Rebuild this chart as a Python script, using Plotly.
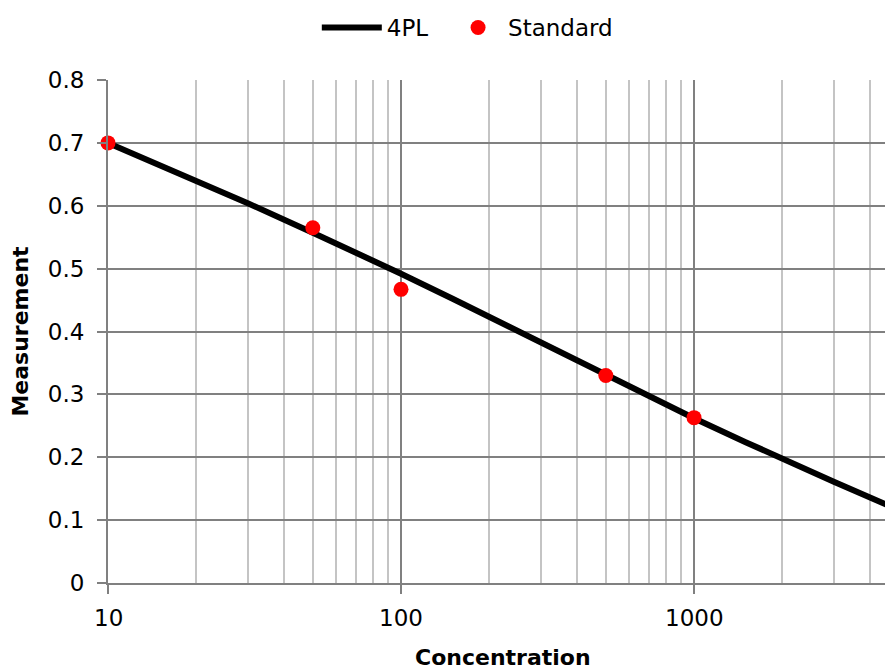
import numpy as np
import plotly.graph_objects as go

# 4PL fitted curve
curve_x = [10, 15, 20, 30, 50, 70, 100, 150, 200, 300, 500, 700, 1000, 1500, 2000, 3000, 5000]
curve_y = [0.700, 0.665, 0.640, 0.604, 0.557, 0.526, 0.492, 0.452, 0.423, 0.382, 0.330, 0.297,
           0.262, 0.224, 0.197, 0.161, 0.116]

# Standards
std_x = [10, 50, 100, 500, 1000]
std_y = [0.700, 0.565, 0.467, 0.330, 0.263]

major_x = [10, 100, 1000]
major_labels = ["10", "100", "1000"]
minor_x = [m * d for d in (10, 100, 1000) for m in range(2, 10)]

FONT = "DejaVu Sans"
fig = go.Figure()
fig.add_trace(go.Scatter(x=curve_x, y=curve_y, mode="lines", name="4PL",
                         line=dict(color="black", width=6), legend="legend"))
fig.add_trace(go.Scatter(x=std_x, y=std_y, mode="markers", name="Standard",
                         marker=dict(color="#ff0000", size=15), cliponaxis=False,
                         legend="legend2"))

H = 663
leg_common = dict(orientation="h", xanchor="left", yref="container", y=1 - 19.5 / H,
                  yanchor="middle", font=dict(size=23), bgcolor="rgba(0,0,0,0)")

# x tick labels drawn as text at the tick values, below the axis
for v, lab in zip(major_x, major_labels):
    fig.add_annotation(x=np.log10(v), xref="x", y=0, yref="paper", text=lab,
                       showarrow=False, yanchor="middle", yshift=-35,
                       font=dict(size=23, family=FONT, color="black"))
fig.add_annotation(x=0.503, xref="paper", y=0, yref="paper", text="<b>Concentration</b>",
                   showarrow=False, yanchor="middle", yshift=-74,
                   font=dict(size=22, family=FONT, color="black"))

# page body has an 8px margin: figure sits at (8, 8)
fig.update_layout(
    width=885, height=H,
    margin=dict(l=100, r=0, t=72, b=88),
    paper_bgcolor="white", plot_bgcolor="white",
    font=dict(family=FONT, size=23, color="black"),
    showlegend=True,
    legend=dict(x=0.266, itemwidth=60, **leg_common),
    legend2=dict(x=0.4332, itemwidth=50, **leg_common),
    xaxis=dict(type="log", range=[1, np.log10(4776)], automargin=False,
               tickvals=major_x, showticklabels=False,
               showgrid=True, gridcolor="#808080", gridwidth=2,
               showline=True, linecolor="#808080", linewidth=2,
               ticks="outside", ticklen=9, tickwidth=2, tickcolor="#808080",
               minor=dict(tickvals=minor_x, showgrid=True, gridcolor="#c4c4c4", gridwidth=2, ticks=""),
               zeroline=False),
    yaxis=dict(range=[0, 0.8], dtick=0.1, tickformat="~g", automargin=False,
               showgrid=True, gridcolor="#808080", gridwidth=2,
               showline=True, linecolor="#808080", linewidth=2,
               ticks="outside", ticklen=9, tickwidth=2, tickcolor="#808080",
               title=dict(text="<b>Measurement</b>", font=dict(size=22), standoff=14),
               zeroline=False, ticklabelstandoff=8),
)
fig.write_html("out.html")
